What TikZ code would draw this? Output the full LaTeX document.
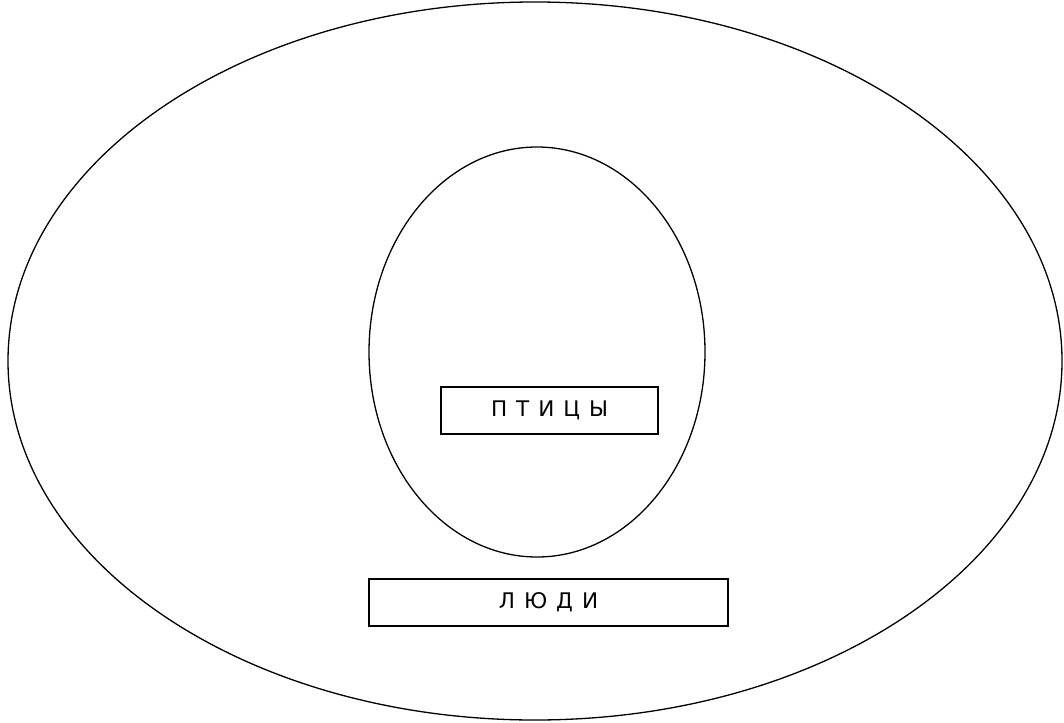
\documentclass[tikz,border=0pt]{standalone}
\usepackage{fontspec}
\usetikzlibrary{shapes.geometric}
\setmainfont{DejaVu Sans}
\begin{document}
\begin{tikzpicture}[x=1pt,y=-1pt,line width=1.3pt,
  lbl/.style={draw,line width=1.5pt,minimum height=47pt,font=\fontsize{21.5}{24}\selectfont\addfontfeature{LetterSpace=10},inner sep=0pt}]
\useasboundingbox (0,0) rectangle (1064,722);
\node[draw,ellipse,minimum width=1054pt,minimum height=718pt,inner sep=0pt] (outer) at (535,361) {};
\node[draw,ellipse,minimum width=336pt,minimum height=410pt,inner sep=0pt] (inner) at (537,352) {};
\node[lbl,minimum width=217pt] (birds) at (549.5,410.5) {П Т И Ц Ы};
\node[lbl,minimum width=359pt] (people) at (548.5,602.5) {Л Ю Д И};
\end{tikzpicture}
\end{document}
